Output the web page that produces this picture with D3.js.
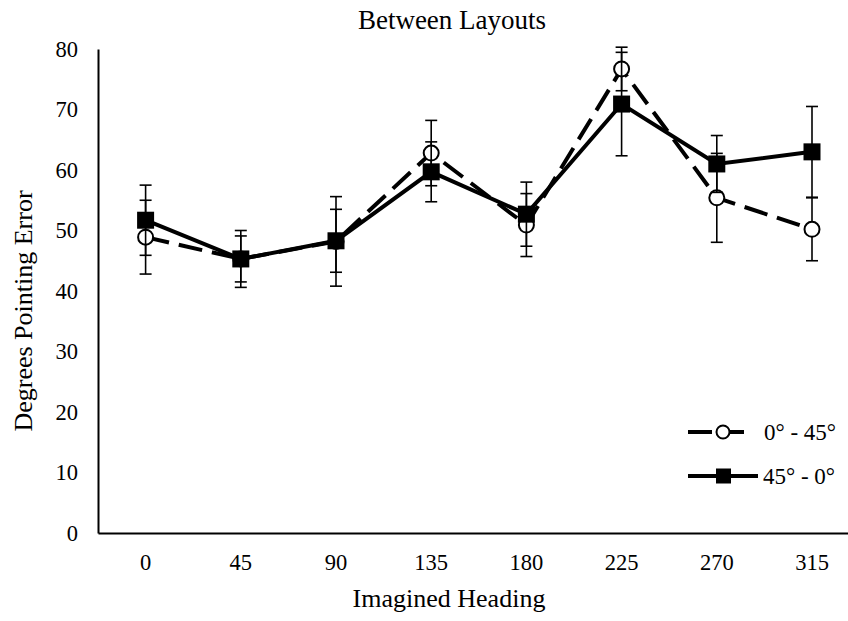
<!DOCTYPE html>
<html>
<head>
<meta charset="utf-8">
<script src="https://cdn.jsdelivr.net/npm/d3@7"></script>
<style>
  html, body { margin: 0; padding: 0; background: #fff; }
  svg { display: block; }
  text { font-family: "Liberation Serif", "Times New Roman", serif; fill: #000; }
</style>
</head>
<body>
<div id="chart"></div>
<script>
const categories = ["0", "45", "90", "135", "180", "225", "270", "315"];
const seriesNames = ["0\u00B0 - 45\u00B0", "45\u00B0 - 0\u00B0"];
const valuesA = [48.9, 45.3, 48.2, 62.8, 50.9, 76.7, 55.4, 50.2];
const errorsA = [6.1, 4.7, 7.4, 5.4, 5.2, 3.6, 7.35, 5.2];
const valuesB = [51.7, 45.3, 48.3, 59.7, 52.7, 70.9, 61.0, 63.0];
const errorsB = [5.8, 3.8, 5.2, 4.95, 5.3, 8.55, 4.7, 7.5];
const yTicks = [0, 10, 20, 30, 40, 50, 60, 70, 80];
const chartTitle = "Between Layouts";
const xTitle = "Imagined Heading";
const yTitle = "Degrees Pointing Error";

const W = 848, H = 621;
const svg = d3.select("#chart").append("svg").attr("width", W).attr("height", H);

const x = d3.scaleBand().domain(categories).range([98, 98 + 8 * 95.2]).padding(0);
const cx = c => x(c) + x.bandwidth() / 2;
const y = d3.scaleLinear().domain([0, 80]).range([533, 49]);

// Axes
const yAxis = d3.axisLeft(y).tickValues(yTicks).tickSize(0).tickPadding(20);
const gy = svg.append("g").attr("transform", "translate(98,0)").call(yAxis);
gy.select(".domain").attr("stroke", "#000").attr("stroke-width", 2);
gy.selectAll("text").style("font-size", "22.5px").attr("font-family", "Liberation Serif").attr("fill", "#000");

const xAxis = d3.axisBottom(x).tickSize(0).tickPadding(21);
const gx = svg.append("g").attr("transform", "translate(0,533)").call(xAxis);
gx.select(".domain").attr("stroke", "#000").attr("stroke-width", 2);
gx.selectAll("text").style("font-size", "22.5px").attr("font-family", "Liberation Serif").attr("fill", "#000");

// Titles
svg.append("text").attr("x", 452).attr("y", 29).attr("text-anchor", "middle")
  .style("font-size", "27px").text(chartTitle);
svg.append("text").attr("x", 449).attr("y", 607).attr("text-anchor", "middle")
  .style("font-size", "26px").text(xTitle);
svg.append("text").attr("transform", "translate(32,311) rotate(-90)").attr("text-anchor", "middle")
  .style("font-size", "26px").text(yTitle);

const line = d3.line().x((d, i) => cx(categories[i])).y(d => y(d));

function drawErrors(vals, errs) {
  const g = svg.append("g");
  vals.forEach((v, i) => {
    const px = cx(categories[i]);
    const hi = y(v + errs[i]), lo = y(v - errs[i]);
    g.append("line").attr("x1", px).attr("x2", px).attr("y1", hi).attr("y2", lo)
      .attr("stroke", "#000").attr("stroke-width", 1.6);
    [hi, lo].forEach(yy => g.append("line").attr("x1", px - 6).attr("x2", px + 6)
      .attr("y1", yy).attr("y2", yy).attr("stroke", "#000").attr("stroke-width", 1.6));
  });
}

// Series A (dashed, open circles)
svg.append("path").datum(valuesA).attr("d", line).attr("fill", "none")
  .attr("stroke", "#000").attr("stroke-width", 4).attr("stroke-dasharray", "24,10");
drawErrors(valuesA, errorsA);
svg.append("g").selectAll("circle").data(valuesA).join("circle")
  .attr("cx", (d, i) => cx(categories[i])).attr("cy", d => y(d)).attr("r", 7.5)
  .attr("fill", "#fff").attr("stroke", "#000").attr("stroke-width", 2);

// Series B (solid, filled squares)
svg.append("path").datum(valuesB).attr("d", line).attr("fill", "none")
  .attr("stroke", "#000").attr("stroke-width", 4);
drawErrors(valuesB, errorsB);
svg.append("g").selectAll("rect").data(valuesB).join("rect")
  .attr("x", (d, i) => cx(categories[i]) - 8.5).attr("y", d => y(d) - 8.5)
  .attr("width", 17).attr("height", 17).attr("fill", "#000");

// Legend
const lg = svg.append("g");
lg.append("line").attr("x1", 688).attr("x2", 744).attr("y1", 432).attr("y2", 432)
  .attr("stroke", "#000").attr("stroke-width", 4).attr("stroke-dasharray", "24,10");
lg.append("circle").attr("cx", 723).attr("cy", 432).attr("r", 6.5)
  .attr("fill", "#fff").attr("stroke", "#000").attr("stroke-width", 2);
lg.append("text").attr("x", 764).attr("y", 440).style("font-size", "23px").text(seriesNames[0]);
lg.append("line").attr("x1", 688).attr("x2", 758).attr("y1", 476).attr("y2", 476)
  .attr("stroke", "#000").attr("stroke-width", 4);
lg.append("rect").attr("x", 716).attr("y", 468.5).attr("width", 15).attr("height", 15).attr("fill", "#000");
lg.append("text").attr("x", 763).attr("y", 484).style("font-size", "23px").text(seriesNames[1]);
</script>
</body>
</html>
